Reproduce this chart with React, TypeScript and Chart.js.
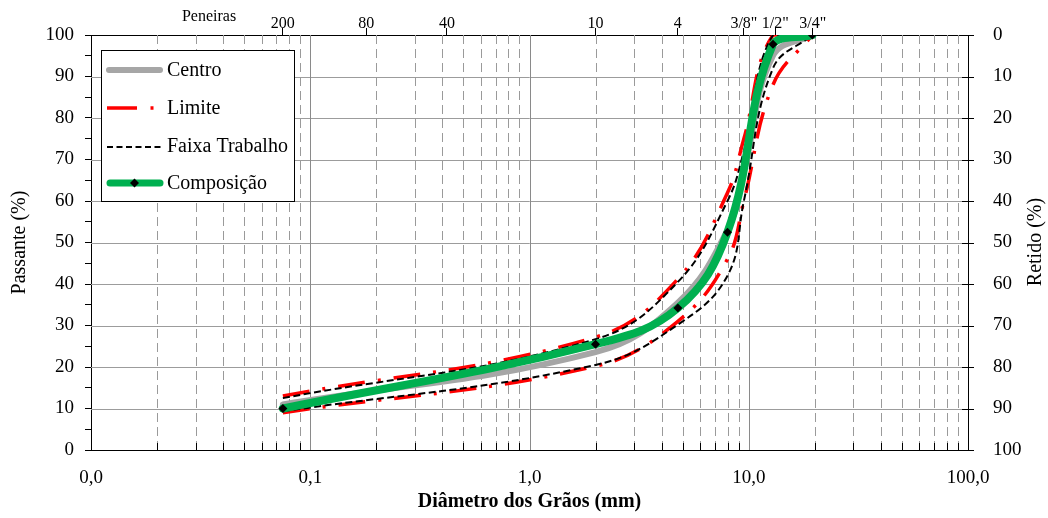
import React, { useEffect, useRef } from 'react';
import { Chart, registerables } from 'chart.js';

Chart.register(...registerables);

const FONT = "'Liberation Serif', 'Times New Roman', serif";

// Sieves on top axis (positions)
const sieveLabels = ['200', '80', '40', '10', '4', '3/8"', '1/2"', '3/4"'];
const sieveSizes = [0.075, 0.18, 0.42, 2.0, 4.75, 9.5, 13.2, 19.6];

// Bottom axis
const decadeValues = [0.01, 0.1, 1, 10, 100];
const decadeLabels = ['0,0', '0,1', '1,0', '10,0', '100,0'];
const minorMultipliers = [2, 3, 4, 5, 6, 7, 8, 9];

// Vertical axes
const passanteTicks = [0, 5, 10, 15, 20, 25, 30, 35, 40, 45, 50, 55, 60, 65, 70, 75, 80, 85, 90, 95, 100];
const retidoTicks = [0, 10, 20, 30, 40, 50, 60, 70, 80, 90, 100];

// Band series (diameter, mm)
const bandDiam = [0.075, 2.0, 4.75, 8.0, 9.5, 12.9, 19.5];
const centro = [11, 23.6, 35.5, 53, 67, 95, 100];
const limiteSup = [13, 27.2, 41.2, 62, 75, 100, 100];
const limiteInf = [9, 20.2, 31, 46, 60, 88, 100];
const faixaSup = [12.5, 26.7, 40.5, 60, 72, 100, 100];
const faixaInf = [9.3, 20.5, 30.2, 42, 60, 92, 100];

// Composition
const compDiam = [0.075, 2.0, 4.75, 8.0, 12.9, 19.5];
const composicao = [10, 25.5, 34.2, 52.5, 97.8, 100];

const pts = (xs: number[], ys: number[]) => xs.map((x, i) => ({ x, y: ys[i] }));

const customPlugin = {
  id: 'customDecor',
  beforeDatasetsDraw(chart: any) {
    const { ctx, chartArea: a, scales } = chart;
    const xs = scales.x;
    const ys = scales.y;
    ctx.save();
    ctx.strokeStyle = '#9c9c9c';
    ctx.lineWidth = 1;
    ctx.setLineDash([]);
    for (const v of retidoTicks) {
      if (v === 0 || v === 100) continue;
      const py = Math.round(ys.getPixelForValue(v)) + 0.5;
      ctx.beginPath();
      ctx.moveTo(a.left, py);
      ctx.lineTo(a.right, py);
      ctx.stroke();
    }
    for (let d = 0; d < decadeValues.length - 1; d++) {
      const dec = decadeValues[d];
      if (d > 0) {
        const px = Math.round(xs.getPixelForValue(dec)) + 0.5;
        ctx.strokeStyle = '#8a8a8a';
        ctx.setLineDash([]);
        ctx.beginPath();
        ctx.moveTo(px, a.top);
        ctx.lineTo(px, a.bottom);
        ctx.stroke();
      }
      for (const m of minorMultipliers) {
        const px = Math.round(xs.getPixelForValue(dec * m)) + 0.5;
        ctx.strokeStyle = '#9a9a9a';
        ctx.setLineDash([9, 5]);
        ctx.beginPath();
        ctx.moveTo(px, a.top);
        ctx.lineTo(px, a.bottom);
        ctx.stroke();
        ctx.setLineDash([]);
        ctx.strokeStyle = '#000';
        ctx.beginPath();
        ctx.moveTo(px, a.bottom);
        ctx.lineTo(px, a.bottom - 7);
        ctx.stroke();
      }
    }
    ctx.strokeStyle = '#000';
    ctx.setLineDash([]);
    const y2 = scales.y2;
    for (const v of retidoTicks) {
      const py = Math.round(y2.getPixelForValue(v)) + 0.5;
      ctx.beginPath();
      ctx.moveTo(a.right - 6, py);
      ctx.lineTo(a.right + 6, py);
      ctx.stroke();
    }
    ctx.restore();
  },
  afterDatasetsDraw(chart: any) {
    const { ctx } = chart;
    ctx.save();
    ctx.fillStyle = '#ffffff';
    ctx.fillRect(101, 50, 194, 152);
    ctx.strokeStyle = '#000';
    ctx.lineWidth = 1;
    ctx.setLineDash([]);
    ctx.strokeRect(101.5, 50.5, 193, 151);

    const tx = 167;
    ctx.font = `20px ${FONT}`;
    ctx.fillStyle = '#000';
    ctx.textBaseline = 'middle';
    ctx.textAlign = 'left';

    ctx.lineCap = 'round';
    ctx.strokeStyle = '#a6a6a6';
    ctx.lineWidth = 6;
    ctx.beginPath();
    ctx.moveTo(109, 70);
    ctx.lineTo(160, 70);
    ctx.stroke();
    ctx.fillText('Centro', tx, 71);

    ctx.lineCap = 'butt';
    ctx.strokeStyle = '#ff0000';
    ctx.lineWidth = 3.5;
    ctx.beginPath();
    ctx.moveTo(107, 108);
    ctx.lineTo(137, 108);
    ctx.moveTo(150.5, 108);
    ctx.lineTo(153.5, 108);
    ctx.stroke();
    ctx.fillText('Limite', tx, 109);

    ctx.strokeStyle = '#000';
    ctx.lineWidth = 2;
    ctx.setLineDash([6, 3.5]);
    ctx.beginPath();
    ctx.moveTo(107, 147);
    ctx.lineTo(162, 147);
    ctx.stroke();
    ctx.setLineDash([]);
    ctx.fillText('Faixa Trabalho', tx, 147);

    ctx.lineCap = 'round';
    ctx.strokeStyle = '#00b050';
    ctx.lineWidth = 7;
    ctx.beginPath();
    ctx.moveTo(110, 183);
    ctx.lineTo(160, 183);
    ctx.stroke();
    ctx.fillStyle = '#000';
    ctx.beginPath();
    ctx.moveTo(134.5, 178.5);
    ctx.lineTo(139, 183);
    ctx.lineTo(134.5, 187.5);
    ctx.lineTo(130, 183);
    ctx.closePath();
    ctx.fill();
    ctx.fillText('Composição', tx, 184);
    ctx.restore();
  },
  afterDraw(chart: any) {
    const { ctx } = chart;
    ctx.save();
    ctx.fillStyle = '#000';
    ctx.font = `16px ${FONT}`;
    ctx.textAlign = 'center';
    ctx.textBaseline = 'middle';
    ctx.fillText('Peneiras', 209, 17);
    ctx.font = `20px ${FONT}`;
    ctx.translate(1036, 242);
    ctx.rotate(-Math.PI / 2);
    ctx.fillText('Retido (%)', 0, 0);
    ctx.restore();
  },
};

export default function App() {
  const ref = useRef<HTMLCanvasElement | null>(null);

  useEffect(() => {
    if (!ref.current) return;
    const common = { xAxisID: 'x', yAxisID: 'y', fill: false, pointRadius: 0, tension: 0.4 };
    const chart = new Chart(ref.current, {
      type: 'line',
      data: {
        datasets: [
          {
            ...common,
            label: 'Composição',
            data: pts(compDiam, composicao),
            borderColor: '#00b050',
            borderWidth: 8,
            borderCapStyle: 'round',
            borderJoinStyle: 'round',
            pointStyle: 'rectRot',
            pointRadius: 4.5,
            pointBackgroundColor: '#000',
            pointBorderColor: '#000',
            pointBorderWidth: 0,
            order: 0,
          },
          {
            ...common,
            label: 'Faixa Trabalho',
            data: pts(bandDiam, faixaSup),
            borderColor: '#000',
            borderWidth: 2,
            borderDash: [7, 3.5],
            order: 1,
          },
          {
            ...common,
            label: 'Faixa Trabalho',
            data: pts(bandDiam, faixaInf),
            borderColor: '#000',
            borderWidth: 2,
            borderDash: [7, 3.5],
            order: 1,
          },
          {
            ...common,
            label: 'Limite',
            data: pts(bandDiam, limiteSup),
            borderColor: '#ff0000',
            borderWidth: 3.5,
            borderDash: [27, 13, 3, 13],
            order: 2,
          },
          {
            ...common,
            label: 'Limite',
            data: pts(bandDiam, limiteInf),
            borderColor: '#ff0000',
            borderWidth: 3.5,
            borderDash: [27, 13, 3, 13],
            order: 2,
          },
          {
            ...common,
            label: 'Centro',
            data: pts(bandDiam, centro),
            borderColor: '#a6a6a6',
            borderWidth: 6,
            borderCapStyle: 'round',
            order: 3,
          },
        ],
      },
      options: {
        animation: false,
        responsive: false,
        devicePixelRatio: 1,
        events: [],
        layout: { padding: 0 },
        plugins: { legend: { display: false }, tooltip: { enabled: false } },
        scales: {
          x: {
            type: 'logarithmic',
            position: 'bottom',
            min: 0.01,
            max: 100,
            afterBuildTicks: (s: any) => {
              s.ticks = decadeValues.map((v) => ({ value: v }));
            },
            ticks: {
              autoSkip: false,
              maxRotation: 0,
              color: '#000',
              font: { family: FONT, size: 19 },
              padding: 9,
              callback: (_v: any, i: number) => decadeLabels[i],
            },
            grid: { display: false },
            border: { display: true, color: '#000', width: 1 },
            title: {
              display: true,
              text: 'Diâmetro dos Grãos (mm)',
              color: '#000',
              font: { family: FONT, size: 20, weight: 'bold' },
              padding: { top: 2, bottom: 4 },
            },
            afterFit: (s: any) => {
              s.height = 68;
            },
          },
          x2: {
            type: 'logarithmic',
            position: 'top',
            min: 0.01,
            max: 100,
            afterBuildTicks: (s: any) => {
              s.ticks = sieveSizes.map((v) => ({ value: v }));
            },
            ticks: {
              autoSkip: false,
              maxRotation: 0,
              color: '#000',
              font: { family: FONT, size: 16 },
              padding: -5,
              callback: (_v: any, i: number) => sieveLabels[i],
            },
            grid: {
              display: true,
              drawOnChartArea: false,
              drawTicks: true,
              tickLength: 7,
              color: '#000',
              tickColor: '#000',
            },
            border: { display: true, color: '#000', width: 1 },
            afterFit: (s: any) => {
              s.height = 35;
            },
          },
          y: {
            type: 'linear',
            position: 'left',
            min: 0,
            max: 100,
            afterBuildTicks: (s: any) => {
              s.ticks = passanteTicks.map((v) => ({ value: v }));
            },
            ticks: {
              autoSkip: false,
              color: '#000',
              font: { family: FONT, size: 19 },
              padding: 11,
              callback: (v: any) => (Number(v) % 10 === 0 ? String(v) : ''),
            },
            grid: {
              display: true,
              drawOnChartArea: false,
              drawTicks: true,
              tickLength: 6,
              color: '#000',
              tickColor: '#000',
            },
            border: { display: true, color: '#000', width: 1 },
            title: {
              display: true,
              text: 'Passante (%)',
              color: '#000',
              font: { family: FONT, size: 20 },
              padding: { top: 8, bottom: 0 },
            },
            afterFit: (s: any) => {
              s.width = 91;
            },
          },
          y2: {
            type: 'linear',
            position: 'right',
            min: 0,
            max: 100,
            reverse: true,
            afterBuildTicks: (s: any) => {
              s.ticks = retidoTicks.map((v) => ({ value: v }));
            },
            ticks: {
              autoSkip: false,
              color: '#000',
              font: { family: FONT, size: 19 },
              padding: 17,
            },
            grid: { display: false },
            border: { display: true, color: '#000', width: 1 },
            afterFit: (s: any) => {
              s.width = 80;
            },
          },
        },
      } as any,
      plugins: [customPlugin],
    });
    return () => chart.destroy();
  }, []);

  return (
    <div style={{ position: 'fixed', left: 0, top: 0, width: 1048, height: 518, background: '#fff' }}>
      <canvas ref={ref} width={1048} height={518} style={{ display: 'block', width: 1048, height: 518 }} />
    </div>
  );
}
